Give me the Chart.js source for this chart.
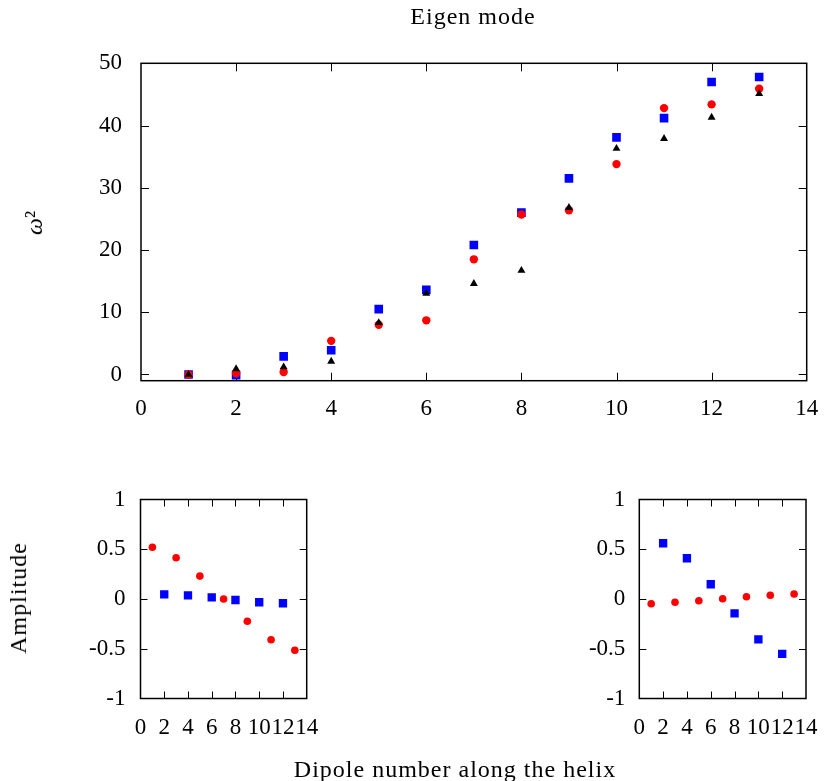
<!DOCTYPE html>
<html><head><meta charset="utf-8">
<script src="https://cdn.jsdelivr.net/npm/chart.js@4.4.0/dist/chart.umd.min.js"></script>
<style>
html,body{margin:0;padding:0;background:#fff;}
#wrap{position:relative;width:824px;height:781px;overflow:hidden;font-family:"Liberation Serif",serif;color:#000;}
canvas{position:absolute;}
.lbl{position:absolute;font-size:24px;line-height:24px;white-space:nowrap;letter-spacing:1px;}
</style></head><body>
<div id="wrap">
<canvas id="cTop" width="824" height="440" style="left:0;top:0;width:824px;height:440px"></canvas>
<canvas id="cLeft" width="330" height="300" style="left:0;top:470px;width:330px;height:300px"></canvas>
<canvas id="cRight" width="344" height="300" style="left:480px;top:470px;width:344px;height:300px"></canvas>
<div class="lbl" id="title" style="left:473px;top:4px;transform:translateX(-50%);">Eigen mode</div>
<div class="lbl" id="ylab" style="left:34px;top:223px;transform:translate(-50%,-50%) rotate(-90deg);letter-spacing:0;"><span style="font-style:italic">ω</span>²</div>
<div class="lbl" id="amp" style="left:18px;top:598px;transform:translate(-50%,-50%) rotate(-90deg);">Amplitude</div>
<div class="lbl" id="xlab" style="left:455px;top:757px;transform:translateX(-50%);">Dipole number along the helix</div>
</div>
<script>
// ---- data ----
const dipoleIndex = [1,2,3,4,5,6,7,8,9,10,11,12,13];
const omegaBlue  = [0.0, -0.1, 2.9, 3.9, 10.5, 13.6, 20.8, 26.0, 31.5, 38.1, 41.2, 47.0, 47.8];
const omegaRed   = [0.0, 0.2, 0.4, 5.4, 8.0, 8.7, 18.5, 25.7, 26.4, 33.8, 42.8, 43.4, 45.9];
const omegaBlack = [0.0, 0.9, 1.2, 2.1, 8.3, 13.0, 14.6, 16.7, 26.8, 36.3, 37.9, 41.3, 45.1];

const oddDipoles  = [1,3,5,7,9,11,13];
const evenDipoles = [2,4,6,8,10,12];
const leftRedAmp   = [0.52, 0.415, 0.23, 0.0, -0.224, -0.41, -0.515];
const leftBlueAmp  = [0.047, 0.037, 0.017, -0.01, -0.033, -0.043];
const rightRedAmp  = [-0.047, -0.033, -0.017, 0.003, 0.023, 0.037, 0.05];
const rightBlueAmp = [0.56, 0.41, 0.148, -0.144, -0.405, -0.552];

const xTicks     = [0,2,4,6,8,10,12,14];
const omegaTicks = [0,10,20,30,40,50];
const ampTicks   = [-1,-0.5,0,0.5,1];

// ---- helpers ----
const FONT = 'Liberation Serif';
const pts = (xs, ys) => xs.map((x,i)=>({x, y: ys[i]}));

const framePlugin = {
  id: 'frame',
  beforeDatasetsDraw(chart, args, opts) {
    const {ctx, chartArea:a, scales:{x, y}} = chart;
    const L = opts.len || 8;
    ctx.save();
    ctx.strokeStyle = '#000';
    ctx.lineWidth = 1;
    ctx.beginPath();
    x.ticks.forEach(t => {
      const px = Math.round(x.getPixelForValue(t.value)) + 0.5;
      if (px <= a.left + 1 || px >= a.right - 1) return;
      ctx.moveTo(px, a.bottom); ctx.lineTo(px, a.bottom - L);
      ctx.moveTo(px, a.top); ctx.lineTo(px, a.top + L);
    });
    y.ticks.forEach(t => {
      const py = Math.round(y.getPixelForValue(t.value)) + 0.5;
      if (py <= a.top + 1 || py >= a.bottom - 1) return;
      ctx.moveTo(a.left, py); ctx.lineTo(a.left + L, py);
      ctx.moveTo(a.right, py); ctx.lineTo(a.right - L, py);
    });
    ctx.stroke();
    ctx.lineWidth = 1.5;
    ctx.strokeRect(a.left, a.top, a.right - a.left, a.bottom - a.top);
    ctx.restore();
  }
};

function linScale(min, max, tickVals, padding, fitKey, fitVal, fontSize) {
  return {
    type: 'linear', min, max,
    afterBuildTicks: s => { s.ticks = tickVals.map(v => ({value: v})); },
    afterFit: s => {
      s[fitKey] = fitVal;
      s.paddingLeft = 0; s.paddingRight = 0; s.paddingTop = 0; s.paddingBottom = 0;
    },
    grid: {display: false, drawTicks: false},
    border: {display: false},
    ticks: {autoSkip: false, maxRotation: 0, minRotation: 0, padding, color: '#000',
            font: {family: FONT, size: fontSize}, callback: v => String(v)}
  };
}

function ds(label, data, style, color, radius) {
  return {label, data, showLine: false, pointStyle: style, pointRadius: radius,
          pointHoverRadius: radius, backgroundColor: color, borderColor: color, borderWidth: 0};
}

function makeChart(id, datasets, xCfg, yCfg, padding, len) {
  return new Chart(document.getElementById(id), {
    type: 'scatter',
    data: {datasets},
    options: {
      responsive: false, animation: false,
      layout: {padding},
      plugins: {legend: {display: false}, tooltip: {enabled: false}, frame: {len}},
      scales: {x: xCfg, y: yCfg}
    },
    plugins: [framePlugin]
  });
}

// ---- top chart ----
makeChart('cTop', [
  ds('black', pts(dipoleIndex, omegaBlack), 'triangle', '#000000', 4.6),
  ds('red',   pts(dipoleIndex, omegaRed),   'circle',   '#ff0000', 4.2),
  ds('blue',  pts(dipoleIndex, omegaBlue),  'rect',     '#0000ff', 6.1)
],
  linScale(0, 14, xTicks, 14, 'height', 59.3, 23),
  linScale(-1, 50, omegaTicks, 19, 'width', 141, 23),
  {left: 0, right: 17.3, top: 63.3, bottom: 0}, 8);

// ---- bottom left ----
makeChart('cLeft', [
  ds('red',  pts(oddDipoles, leftRedAmp),   'circle', '#ff0000', 3.8),
  ds('blue', pts(evenDipoles, leftBlueAmp), 'rect',   '#0000ff', 5.9)
],
  linScale(0, 14, xTicks, 16, 'height', 71.5, 23),
  linScale(-1, 1, ampTicks, 15, 'width', 140.5, 23),
  {left: 0, right: 23.3, top: 29.5, bottom: 0}, 7);

// ---- bottom right ----
makeChart('cRight', [
  ds('red',  pts(oddDipoles, rightRedAmp),   'circle', '#ff0000', 3.8),
  ds('blue', pts(evenDipoles, rightBlueAmp), 'rect',   '#0000ff', 5.9)
],
  linScale(0, 14, xTicks, 16, 'height', 71.5, 23),
  linScale(-1, 1, ampTicks, 14, 'width', 159.3, 23),
  {left: 0, right: 18, top: 29.5, bottom: 0}, 7);
</script>
</body></html>
